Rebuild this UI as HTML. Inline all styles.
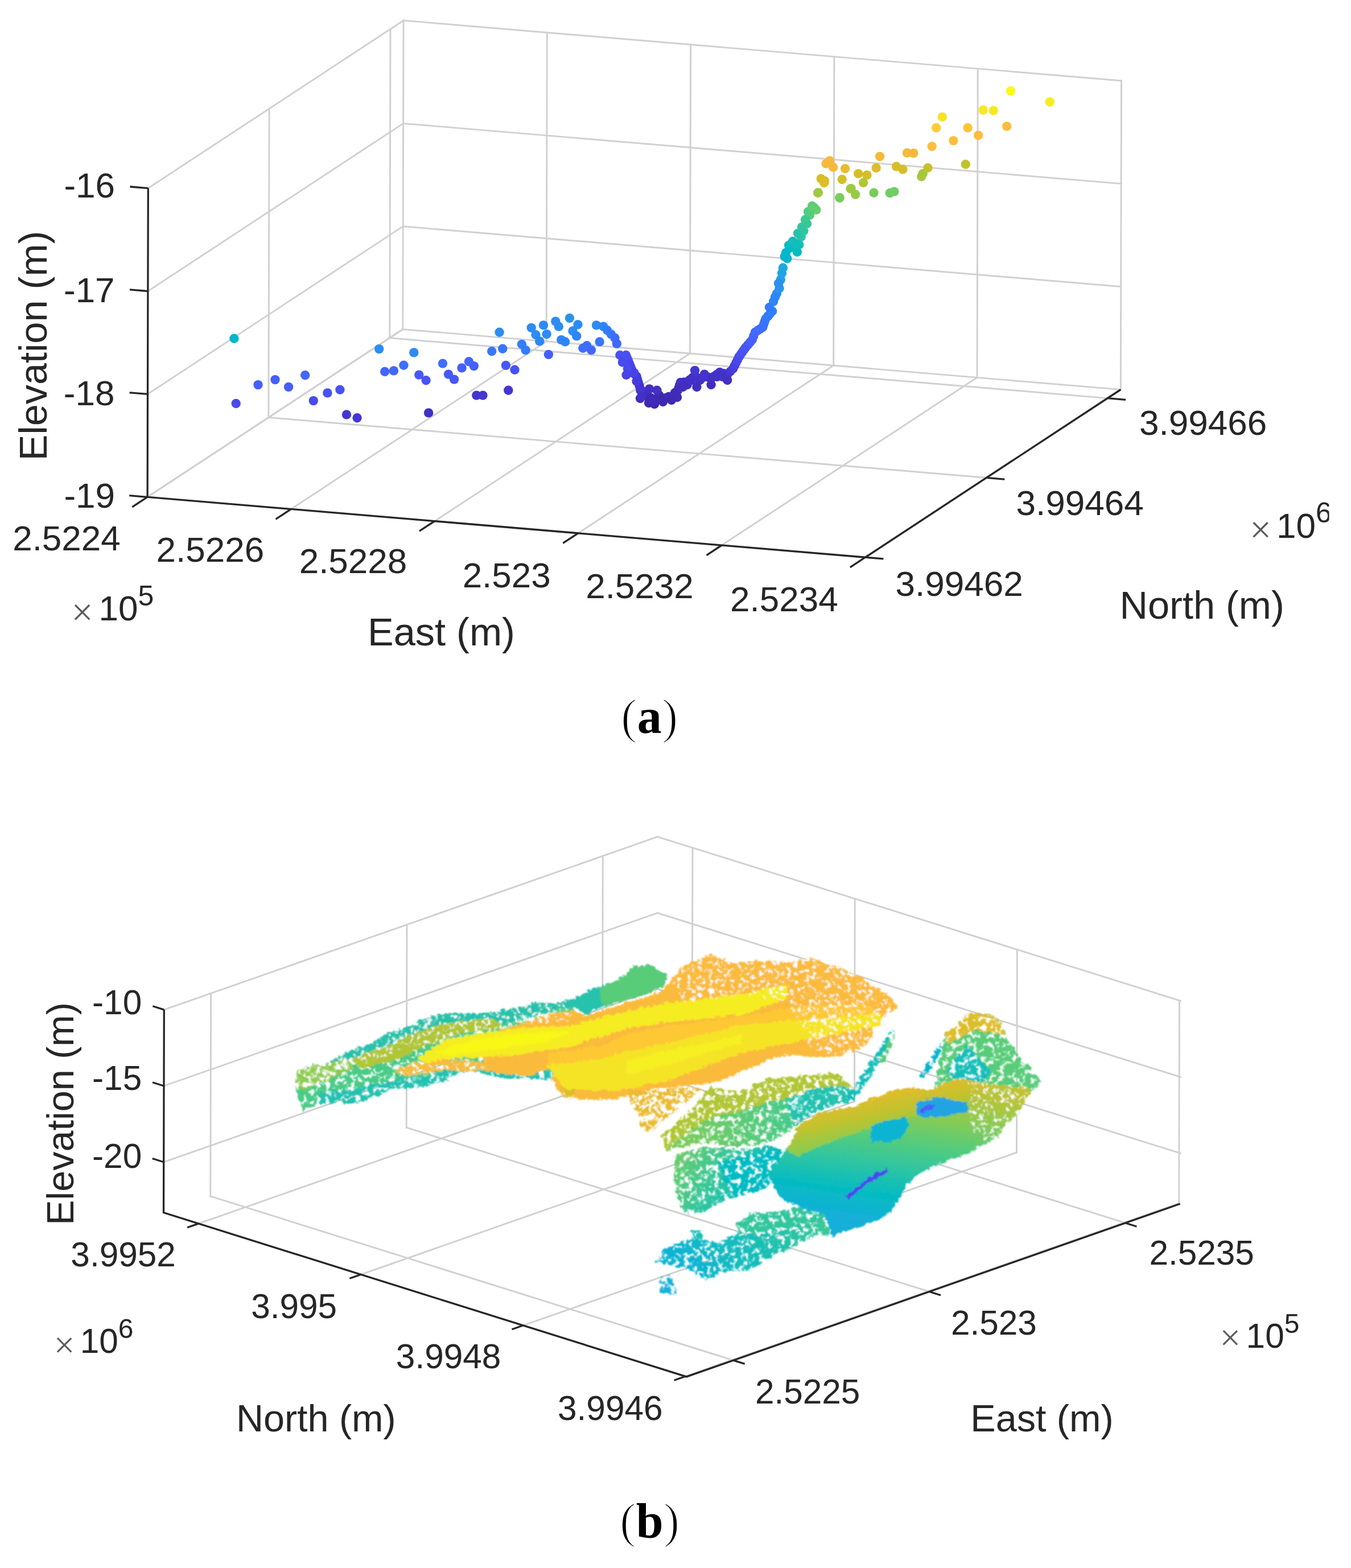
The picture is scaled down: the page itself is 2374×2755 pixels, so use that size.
<!DOCTYPE html>
<html><head><meta charset="utf-8"><title>Figure</title>
<style>html,body{margin:0;padding:0;background:#fff;overflow:hidden;width:2374px;height:2755px}svg{display:block}</style></head>
<body><svg width="2374" height="2755" viewBox="0 0 2374 2755">
<rect width="2374" height="2755" fill="#fff"/>
<g stroke="#d0d0d0" stroke-width="2.9" stroke-linecap="square">
<line x1="471.9" y1="733.5" x2="473.1" y2="190.9" stroke="#d0d0d0" stroke-width="2.9"/>
<line x1="684.8" y1="593.8" x2="686.0" y2="51.1" stroke="#d0d0d0" stroke-width="2.9"/>
<line x1="259.1" y1="873.3" x2="707.8" y2="578.6" stroke="#d0d0d0" stroke-width="2.9"/>
<line x1="259.5" y1="692.4" x2="708.2" y2="397.7" stroke="#d0d0d0" stroke-width="2.9"/>
<line x1="259.9" y1="511.6" x2="708.6" y2="216.9" stroke="#d0d0d0" stroke-width="2.9"/>
<line x1="260.3" y1="330.7" x2="709.0" y2="36.0" stroke="#d0d0d0" stroke-width="2.9"/>
<line x1="707.8" y1="578.6" x2="709.0" y2="36.0" stroke="#d0d0d0" stroke-width="2.9"/>
<line x1="960.1" y1="599.8" x2="961.3" y2="57.2" stroke="#d0d0d0" stroke-width="2.9"/>
<line x1="1212.4" y1="621.0" x2="1213.6" y2="78.3" stroke="#d0d0d0" stroke-width="2.9"/>
<line x1="1464.7" y1="642.1" x2="1465.9" y2="99.5" stroke="#d0d0d0" stroke-width="2.9"/>
<line x1="1717.0" y1="663.3" x2="1718.2" y2="120.7" stroke="#d0d0d0" stroke-width="2.9"/>
<line x1="1969.3" y1="684.5" x2="1970.5" y2="141.9" stroke="#d0d0d0" stroke-width="2.9"/>
<line x1="707.8" y1="578.6" x2="1969.3" y2="684.5" stroke="#d0d0d0" stroke-width="2.9"/>
<line x1="708.2" y1="397.7" x2="1969.7" y2="503.6" stroke="#d0d0d0" stroke-width="2.9"/>
<line x1="708.6" y1="216.9" x2="1970.1" y2="322.8" stroke="#d0d0d0" stroke-width="2.9"/>
<line x1="709.0" y1="36.0" x2="1970.5" y2="141.9" stroke="#d0d0d0" stroke-width="2.9"/>
<line x1="259.1" y1="873.3" x2="707.8" y2="578.6" stroke="#d0d0d0" stroke-width="2.9"/>
<line x1="511.4" y1="894.5" x2="960.1" y2="599.8" stroke="#d0d0d0" stroke-width="2.9"/>
<line x1="763.7" y1="915.7" x2="1212.4" y2="621.0" stroke="#d0d0d0" stroke-width="2.9"/>
<line x1="1015.9" y1="936.9" x2="1464.7" y2="642.1" stroke="#d0d0d0" stroke-width="2.9"/>
<line x1="1268.2" y1="958.0" x2="1717.0" y2="663.3" stroke="#d0d0d0" stroke-width="2.9"/>
<line x1="1520.5" y1="979.2" x2="1969.3" y2="684.5" stroke="#d0d0d0" stroke-width="2.9"/>
<line x1="259.1" y1="873.3" x2="1520.5" y2="979.2" stroke="#d0d0d0" stroke-width="2.9"/>
<line x1="471.9" y1="733.5" x2="1733.4" y2="839.4" stroke="#d0d0d0" stroke-width="2.9"/>
<line x1="684.8" y1="593.8" x2="1946.2" y2="699.7" stroke="#d0d0d0" stroke-width="2.9"/>
</g>
<g>
<circle cx="1100.0" cy="624.0" r="8.2" fill="#4851f4"/>
<circle cx="1102.0" cy="629.0" r="8.2" fill="#484ef1"/>
<circle cx="1104.0" cy="634.1" r="8.2" fill="#484cef"/>
<circle cx="1106.1" cy="639.1" r="8.2" fill="#4849ed"/>
<circle cx="1108.1" cy="644.2" r="8.2" fill="#4746ea"/>
<circle cx="1110.1" cy="649.2" r="8.2" fill="#4743e7"/>
<circle cx="1114.3" cy="655.1" r="8.2" fill="#473fe3"/>
<circle cx="1118.5" cy="661.0" r="8.2" fill="#463cde"/>
<circle cx="1120.2" cy="666.6" r="8.2" fill="#4539d9"/>
<circle cx="1121.8" cy="672.2" r="8.2" fill="#4536d3"/>
<circle cx="1123.5" cy="677.8" r="8.2" fill="#4433cc"/>
<circle cx="1126.0" cy="684.5" r="8.2" fill="#4330c5"/>
<circle cx="1128.6" cy="691.3" r="8.2" fill="#422ebe"/>
<circle cx="1137.0" cy="696.0" r="8.2" fill="#402bb7"/>
<circle cx="1142.8" cy="698.6" r="8.2" fill="#402ab4"/>
<circle cx="1148.7" cy="701.3" r="8.2" fill="#3f29b0"/>
<circle cx="1153.8" cy="701.3" r="8.2" fill="#3f29b0"/>
<circle cx="1158.8" cy="701.3" r="8.2" fill="#3f29b0"/>
<circle cx="1163.9" cy="701.3" r="8.2" fill="#3f29b0"/>
<circle cx="1169.5" cy="699.1" r="8.2" fill="#402ab4"/>
<circle cx="1175.0" cy="697.0" r="8.2" fill="#402bb7"/>
<circle cx="1184.0" cy="695.0" r="8.2" fill="#402bb7"/>
<circle cx="1187.4" cy="690.6" r="8.2" fill="#412dbb"/>
<circle cx="1190.8" cy="686.2" r="8.2" fill="#422ebe"/>
<circle cx="1192.5" cy="681.5" r="8.2" fill="#422fc1"/>
<circle cx="1194.1" cy="676.7" r="8.2" fill="#4230c3"/>
<circle cx="1195.8" cy="672.0" r="8.2" fill="#4330c5"/>
<circle cx="1201.7" cy="671.5" r="8.2" fill="#4330c5"/>
<circle cx="1207.6" cy="671.1" r="8.2" fill="#4330c5"/>
<circle cx="1212.1" cy="667.4" r="8.2" fill="#4331c8"/>
<circle cx="1216.5" cy="663.7" r="8.2" fill="#4332ca"/>
<circle cx="1221.0" cy="660.0" r="8.2" fill="#4433cc"/>
<circle cx="1225.5" cy="664.0" r="8.2" fill="#4332c9"/>
<circle cx="1230.0" cy="668.0" r="8.2" fill="#4330c5"/>
<circle cx="1233.9" cy="664.0" r="8.2" fill="#4332c9"/>
<circle cx="1237.8" cy="660.0" r="8.2" fill="#4433cc"/>
<circle cx="1243.7" cy="662.5" r="8.2" fill="#4332c9"/>
<circle cx="1249.6" cy="665.0" r="8.2" fill="#4330c5"/>
<circle cx="1254.6" cy="661.4" r="8.2" fill="#4331c8"/>
<circle cx="1259.7" cy="657.9" r="8.2" fill="#4332ca"/>
<circle cx="1264.7" cy="654.3" r="8.2" fill="#4433cc"/>
<circle cx="1271.5" cy="656.1" r="8.2" fill="#4433cc"/>
<circle cx="1278.2" cy="658.0" r="8.2" fill="#4433cc"/>
<circle cx="1283.2" cy="652.8" r="8.2" fill="#4537d6"/>
<circle cx="1288.2" cy="647.6" r="8.2" fill="#463cde"/>
<circle cx="1290.7" cy="642.5" r="8.2" fill="#473fe3"/>
<circle cx="1293.2" cy="637.5" r="8.2" fill="#4743e7"/>
<circle cx="1295.8" cy="632.5" r="8.2" fill="#4747eb"/>
<circle cx="1298.3" cy="627.4" r="8.2" fill="#484aee"/>
<circle cx="1301.2" cy="623.2" r="8.2" fill="#484df0"/>
<circle cx="1304.2" cy="619.0" r="8.2" fill="#4850f2"/>
<circle cx="1307.1" cy="614.8" r="8.2" fill="#4852f4"/>
<circle cx="1310.1" cy="610.6" r="8.2" fill="#4755f6"/>
<circle cx="1314.0" cy="606.1" r="8.2" fill="#4758f8"/>
<circle cx="1317.9" cy="601.5" r="8.2" fill="#475cfa"/>
<circle cx="1321.8" cy="597.0" r="8.2" fill="#465ffb"/>
<circle cx="1324.3" cy="590.4" r="8.2" fill="#4563fd"/>
<circle cx="1326.9" cy="583.7" r="8.2" fill="#4367fd"/>
<circle cx="1331.4" cy="580.8" r="8.2" fill="#4269fe"/>
<circle cx="1335.8" cy="577.9" r="8.2" fill="#416cfe"/>
<circle cx="1340.3" cy="575.0" r="8.2" fill="#3f6eff"/>
<circle cx="1342.0" cy="570.1" r="8.2" fill="#3d71ff"/>
<circle cx="1343.7" cy="565.1" r="8.2" fill="#3a74fe"/>
<circle cx="1345.4" cy="560.2" r="8.2" fill="#3876fe"/>
<circle cx="1349.3" cy="555.7" r="8.2" fill="#3579fd"/>
<circle cx="1353.2" cy="551.2" r="8.2" fill="#327bfc"/>
<circle cx="1357.1" cy="546.7" r="8.2" fill="#317efb"/>
<circle cx="1125.0" cy="700.0" r="8.2" fill="#402bb7"/>
<circle cx="1140.0" cy="708.0" r="8.2" fill="#3f29b0"/>
<circle cx="1150.0" cy="710.0" r="8.2" fill="#3e26a8"/>
<circle cx="1165.0" cy="706.0" r="8.2" fill="#3f29b0"/>
<circle cx="1180.0" cy="703.0" r="8.2" fill="#3f29b0"/>
<circle cx="1190.0" cy="698.0" r="8.2" fill="#402bb7"/>
<circle cx="1134.0" cy="690.0" r="8.2" fill="#402bb7"/>
<circle cx="1158.0" cy="694.0" r="8.2" fill="#3f29b0"/>
<circle cx="1207.6" cy="676.0" r="8.2" fill="#422ebe"/>
<circle cx="1224.4" cy="680.0" r="8.2" fill="#422ebe"/>
<circle cx="1249.6" cy="676.0" r="8.2" fill="#422ebe"/>
<circle cx="1278.2" cy="668.0" r="8.2" fill="#4330c5"/>
<circle cx="1221.0" cy="650.9" r="8.2" fill="#4536d3"/>
<circle cx="1237.8" cy="657.6" r="8.2" fill="#4433cc"/>
<circle cx="1264.7" cy="654.3" r="8.2" fill="#4433cc"/>
<circle cx="1215.0" cy="668.0" r="8.2" fill="#4330c5"/>
<circle cx="1260.0" cy="662.0" r="8.2" fill="#4330c5"/>
<circle cx="1270.0" cy="662.0" r="8.2" fill="#4330c5"/>
<circle cx="1200.0" cy="680.0" r="8.2" fill="#422ebe"/>
<circle cx="1186.0" cy="690.0" r="8.2" fill="#402bb7"/>
<circle cx="411.4" cy="594.7" r="8.2" fill="#05b6ce"/>
<circle cx="414.7" cy="709.0" r="8.2" fill="#484aee"/>
<circle cx="453.5" cy="676.1" r="8.2" fill="#465ffb"/>
<circle cx="483.5" cy="667.1" r="8.2" fill="#465ffb"/>
<circle cx="507.1" cy="679.9" r="8.2" fill="#465ffb"/>
<circle cx="536.2" cy="659.3" r="8.2" fill="#4367fd"/>
<circle cx="550.8" cy="704.1" r="8.2" fill="#484aee"/>
<circle cx="575.4" cy="690.4" r="8.2" fill="#4851f4"/>
<circle cx="597.4" cy="684.8" r="8.2" fill="#4851f4"/>
<circle cx="609.0" cy="728.5" r="8.2" fill="#4536d3"/>
<circle cx="627.6" cy="734.3" r="8.2" fill="#4536d3"/>
<circle cx="666.2" cy="613.1" r="8.2" fill="#2d8cf3"/>
<circle cx="727.3" cy="619.4" r="8.2" fill="#2d8cf3"/>
<circle cx="676.2" cy="653.0" r="8.2" fill="#4367fd"/>
<circle cx="691.9" cy="651.4" r="8.2" fill="#4367fd"/>
<circle cx="709.4" cy="641.8" r="8.2" fill="#3f6eff"/>
<circle cx="736.3" cy="658.6" r="8.2" fill="#4758f8"/>
<circle cx="748.6" cy="668.2" r="8.2" fill="#4851f4"/>
<circle cx="753.1" cy="725.4" r="8.2" fill="#4330c5"/>
<circle cx="777.9" cy="638.6" r="8.2" fill="#3f6eff"/>
<circle cx="788.0" cy="657.6" r="8.2" fill="#4758f8"/>
<circle cx="798.1" cy="666.6" r="8.2" fill="#4758f8"/>
<circle cx="811.5" cy="646.4" r="8.2" fill="#465ffb"/>
<circle cx="823.9" cy="635.2" r="8.2" fill="#4367fd"/>
<circle cx="832.8" cy="643.1" r="8.2" fill="#465ffb"/>
<circle cx="837.3" cy="694.6" r="8.2" fill="#4536d3"/>
<circle cx="848.5" cy="694.6" r="8.2" fill="#4536d3"/>
<circle cx="864.2" cy="617.3" r="8.2" fill="#3876fe"/>
<circle cx="877.6" cy="583.7" r="8.2" fill="#2d8cf3"/>
<circle cx="883.3" cy="612.8" r="8.2" fill="#3876fe"/>
<circle cx="888.9" cy="642.0" r="8.2" fill="#4758f8"/>
<circle cx="904.5" cy="649.8" r="8.2" fill="#4851f4"/>
<circle cx="893.3" cy="685.7" r="8.2" fill="#4536d3"/>
<circle cx="916.9" cy="605.0" r="8.2" fill="#317efb"/>
<circle cx="923.6" cy="615.1" r="8.2" fill="#317efb"/>
<circle cx="933.7" cy="575.9" r="8.2" fill="#2d8cf3"/>
<circle cx="941.5" cy="588.2" r="8.2" fill="#2d8cf3"/>
<circle cx="948.2" cy="599.4" r="8.2" fill="#2e85f8"/>
<circle cx="955.0" cy="571.4" r="8.2" fill="#2d8cf3"/>
<circle cx="960.6" cy="587.1" r="8.2" fill="#2d8cf3"/>
<circle cx="963.9" cy="622.9" r="8.2" fill="#465ffb"/>
<circle cx="976.3" cy="564.6" r="8.2" fill="#2d8cf3"/>
<circle cx="981.8" cy="573.6" r="8.2" fill="#2d8cf3"/>
<circle cx="986.3" cy="597.1" r="8.2" fill="#2e85f8"/>
<circle cx="993.1" cy="600.5" r="8.2" fill="#2e85f8"/>
<circle cx="1000.9" cy="559.0" r="8.2" fill="#2a92ee"/>
<circle cx="1006.5" cy="581.5" r="8.2" fill="#2d8cf3"/>
<circle cx="1015.5" cy="570.3" r="8.2" fill="#2d8cf3"/>
<circle cx="1013.2" cy="590.4" r="8.2" fill="#2e85f8"/>
<circle cx="1024.4" cy="611.7" r="8.2" fill="#3f6eff"/>
<circle cx="1031.2" cy="607.2" r="8.2" fill="#3f6eff"/>
<circle cx="1039.0" cy="615.1" r="8.2" fill="#4367fd"/>
<circle cx="1048.0" cy="571.4" r="8.2" fill="#2d8cf3"/>
<circle cx="1053.6" cy="600.5" r="8.2" fill="#3876fe"/>
<circle cx="1060.3" cy="573.6" r="8.2" fill="#2e85f8"/>
<circle cx="1067.0" cy="580.3" r="8.2" fill="#317efb"/>
<circle cx="1073.7" cy="587.1" r="8.2" fill="#3876fe"/>
<circle cx="1080.4" cy="593.8" r="8.2" fill="#3f6eff"/>
<circle cx="1083.8" cy="603.9" r="8.2" fill="#4367fd"/>
<circle cx="1089.4" cy="624.0" r="8.2" fill="#4851f4"/>
<circle cx="1096.1" cy="626.3" r="8.2" fill="#4851f4"/>
<circle cx="1093.9" cy="636.4" r="8.2" fill="#484aee"/>
<circle cx="1102.9" cy="647.6" r="8.2" fill="#484aee"/>
<circle cx="1100.6" cy="658.8" r="8.2" fill="#4743e7"/>
<circle cx="1114.1" cy="656.5" r="8.2" fill="#4743e7"/>
<circle cx="1118.5" cy="670.0" r="8.2" fill="#463cde"/>
<circle cx="1125.3" cy="685.7" r="8.2" fill="#4536d3"/>
<circle cx="1127.5" cy="696.9" r="8.2" fill="#4330c5"/>
<circle cx="1141.0" cy="683.4" r="8.2" fill="#4330c5"/>
<circle cx="1147.7" cy="705.8" r="8.2" fill="#402bb7"/>
<circle cx="1154.4" cy="685.7" r="8.2" fill="#4330c5"/>
<circle cx="1349.8" cy="555.1" r="8.2" fill="#347afd"/>
<circle cx="1355.6" cy="547.0" r="8.2" fill="#2f81fa"/>
<circle cx="1359.1" cy="529.6" r="8.2" fill="#2d88f6"/>
<circle cx="1364.9" cy="515.7" r="8.2" fill="#2c8ff1"/>
<circle cx="1369.5" cy="506.5" r="8.2" fill="#2895ec"/>
<circle cx="1371.8" cy="491.4" r="8.2" fill="#249fe6"/>
<circle cx="1375.9" cy="470.5" r="8.2" fill="#1caadf"/>
<circle cx="1383.4" cy="454.3" r="8.2" fill="#0ab4d2"/>
<circle cx="1378.7" cy="450.9" r="8.2" fill="#0ab4d2"/>
<circle cx="1388.0" cy="435.8" r="8.2" fill="#04bbc2"/>
<circle cx="1400.8" cy="442.8" r="8.2" fill="#04bbc2"/>
<circle cx="1404.2" cy="430.0" r="8.2" fill="#12beb9"/>
<circle cx="1407.7" cy="416.1" r="8.2" fill="#2cc4a7"/>
<circle cx="1412.3" cy="405.7" r="8.2" fill="#33c69d"/>
<circle cx="1418.1" cy="393.0" r="8.2" fill="#3bc992"/>
<circle cx="1422.8" cy="377.9" r="8.2" fill="#58cc79"/>
<circle cx="1429.7" cy="366.3" r="8.2" fill="#68cd6b"/>
<circle cx="1434.3" cy="368.6" r="8.2" fill="#68cd6b"/>
<circle cx="1437.8" cy="338.5" r="8.2" fill="#9fc942"/>
<circle cx="1475.4" cy="347.8" r="8.2" fill="#7acc5d"/>
<circle cx="1494.6" cy="331.6" r="8.2" fill="#9fc942"/>
<circle cx="1381.0" cy="444.0" r="8.2" fill="#01b8ca"/>
<circle cx="1386.0" cy="431.0" r="8.2" fill="#04bbc2"/>
<circle cx="1393.0" cy="424.0" r="8.2" fill="#12beb9"/>
<circle cx="1398.0" cy="428.0" r="8.2" fill="#12beb9"/>
<circle cx="1402.0" cy="410.0" r="8.2" fill="#27c2ac"/>
<circle cx="1409.0" cy="399.0" r="8.2" fill="#33c69d"/>
<circle cx="1415.0" cy="386.0" r="8.2" fill="#3bc992"/>
<circle cx="1420.0" cy="372.0" r="8.2" fill="#50cc80"/>
<circle cx="1427.0" cy="362.0" r="8.2" fill="#60cd72"/>
<circle cx="1374.0" cy="480.0" r="8.2" fill="#20a4e3"/>
<circle cx="1368.0" cy="498.0" r="8.2" fill="#2a92ee"/>
<circle cx="1362.0" cy="522.0" r="8.2" fill="#2e85f8"/>
<circle cx="1352.0" cy="540.0" r="8.2" fill="#347afd"/>
<circle cx="1776.0" cy="159.7" r="8.2" fill="#f9fb15"/>
<circle cx="1844.8" cy="179.1" r="8.2" fill="#f5ec22"/>
<circle cx="1655.7" cy="205.5" r="8.2" fill="#f5e427"/>
<circle cx="1727.6" cy="193.4" r="8.2" fill="#f5e825"/>
<circle cx="1745.7" cy="194.2" r="8.2" fill="#f5e825"/>
<circle cx="1645.1" cy="224.5" r="8.2" fill="#fdcc32"/>
<circle cx="1700.6" cy="224.5" r="8.2" fill="#fec437"/>
<circle cx="1769.2" cy="221.9" r="8.2" fill="#fdbd3d"/>
<circle cx="1719.2" cy="237.8" r="8.2" fill="#fdbd3d"/>
<circle cx="1675.4" cy="247.1" r="8.2" fill="#fdbd3d"/>
<circle cx="1637.6" cy="257.2" r="8.2" fill="#fdbd3d"/>
<circle cx="1594.0" cy="268.6" r="8.2" fill="#f5ba3a"/>
<circle cx="1605.3" cy="269.1" r="8.2" fill="#f5ba3a"/>
<circle cx="1546.1" cy="274.9" r="8.2" fill="#f5ba3a"/>
<circle cx="1457.8" cy="282.4" r="8.2" fill="#f5ba3a"/>
<circle cx="1451.5" cy="287.5" r="8.2" fill="#f5ba3a"/>
<circle cx="1464.1" cy="293.8" r="8.2" fill="#f5ba3a"/>
<circle cx="1485.0" cy="296.3" r="8.2" fill="#eaba31"/>
<circle cx="1539.7" cy="295.0" r="8.2" fill="#debd29"/>
<circle cx="1575.0" cy="292.5" r="8.2" fill="#d7be28"/>
<circle cx="1586.4" cy="297.6" r="8.2" fill="#d7be28"/>
<circle cx="1630.5" cy="295.0" r="8.2" fill="#c8c129"/>
<circle cx="1696.8" cy="288.7" r="8.2" fill="#c1c32d"/>
<circle cx="1508.2" cy="305.1" r="8.2" fill="#d7be28"/>
<circle cx="1523.4" cy="307.6" r="8.2" fill="#d0c027"/>
<circle cx="1442.7" cy="314.0" r="8.2" fill="#d7be28"/>
<circle cx="1449.0" cy="317.7" r="8.2" fill="#d7be28"/>
<circle cx="1479.7" cy="315.2" r="8.2" fill="#d0c027"/>
<circle cx="1517.1" cy="321.0" r="8.2" fill="#b0c636"/>
<circle cx="1621.7" cy="305.1" r="8.2" fill="#a8c73b"/>
<circle cx="1619.2" cy="310.2" r="8.2" fill="#a8c73b"/>
<circle cx="1495.6" cy="331.1" r="8.2" fill="#9fc942"/>
<circle cx="1503.2" cy="341.7" r="8.2" fill="#96ca48"/>
<circle cx="1437.1" cy="338.7" r="8.2" fill="#9fc942"/>
<circle cx="1475.5" cy="347.2" r="8.2" fill="#7acc5d"/>
<circle cx="1535.5" cy="338.7" r="8.2" fill="#7acc5d"/>
<circle cx="1563.7" cy="339.2" r="8.2" fill="#71cd64"/>
<circle cx="1571.3" cy="336.6" r="8.2" fill="#71cd64"/>
<circle cx="1448.2" cy="321.2" r="8.2" fill="#debd29"/>
<circle cx="1430.1" cy="364.4" r="8.2" fill="#60cd72"/>
</g>
<g stroke="#262626" stroke-width="3.3" stroke-linecap="butt" fill="none">
<polyline fill="none" stroke="#262626" stroke-width="3.3" stroke-linejoin="miter" points="260.3,330.7 259.1,873.3 1520.5,979.2 1969.3,684.5"/>
<line x1="259.1" y1="873.3" x2="227.2" y2="870.6" stroke="#262626" stroke-width="3.3"/>
<line x1="259.5" y1="692.4" x2="227.6" y2="689.8" stroke="#262626" stroke-width="3.3"/>
<line x1="259.9" y1="511.6" x2="228.0" y2="508.9" stroke="#262626" stroke-width="3.3"/>
<line x1="260.3" y1="330.7" x2="228.4" y2="328.0" stroke="#262626" stroke-width="3.3"/>
<line x1="259.1" y1="873.3" x2="232.3" y2="890.9" stroke="#262626" stroke-width="3.3"/>
<line x1="511.4" y1="894.5" x2="484.6" y2="912.1" stroke="#262626" stroke-width="3.3"/>
<line x1="763.7" y1="915.7" x2="736.9" y2="933.2" stroke="#262626" stroke-width="3.3"/>
<line x1="1015.9" y1="936.9" x2="989.2" y2="954.4" stroke="#262626" stroke-width="3.3"/>
<line x1="1268.2" y1="958.0" x2="1241.5" y2="975.6" stroke="#262626" stroke-width="3.3"/>
<line x1="1520.5" y1="979.2" x2="1493.8" y2="996.8" stroke="#262626" stroke-width="3.3"/>
<line x1="1520.5" y1="979.2" x2="1552.4" y2="981.9" stroke="#262626" stroke-width="3.3"/>
<line x1="1733.4" y1="839.4" x2="1765.3" y2="842.1" stroke="#262626" stroke-width="3.3"/>
<line x1="1946.2" y1="699.7" x2="1978.1" y2="702.3" stroke="#262626" stroke-width="3.3"/>
</g>
<g font-family="'Liberation Sans', Arial, Helvetica, sans-serif" fill="#262626">
<text x="202.0" y="346.5" font-size="62" text-anchor="end">-16</text>
<text x="201.6" y="531.3" font-size="62" text-anchor="end">-17</text>
<text x="201.4" y="712.1" font-size="62" text-anchor="end">-18</text>
<text x="202.0" y="892.4" font-size="62" text-anchor="end">-19</text>
<text x="211.8" y="967.3" font-size="62" text-anchor="end">2.5224</text>
<text x="464.2" y="986.9" font-size="62" text-anchor="end">2.5226</text>
<text x="715.3" y="1007.4" font-size="62" text-anchor="end">2.5228</text>
<text x="967.8" y="1031.5" font-size="62" text-anchor="end">2.523</text>
<text x="1218.8" y="1050.7" font-size="62" text-anchor="end">2.5232</text>
<text x="1472.7" y="1074.1" font-size="62" text-anchor="end">2.5234</text>
<text x="1573.6" y="1047.3" font-size="62" text-anchor="start">3.99462</text>
<text x="1785.6" y="905.3" font-size="62" text-anchor="start">3.99464</text>
<text x="2002.1" y="764.3" font-size="62" text-anchor="start">3.99466</text>
<text x="125.2" y="1097.8" font-size="66.3" fill="#5a5a5a" stroke="#fff" stroke-width="1.4">×</text>
<text x="173.6" y="1090.2" font-size="62">10<tspan font-size="50" dy="-26.7">5</tspan></text>
<text x="2195.8" y="952.8" font-size="66.3" fill="#5a5a5a" stroke="#fff" stroke-width="1.4">×</text>
<text x="2243.0" y="944.7" font-size="62">10<tspan font-size="50" dy="-26.7">6</tspan></text>
<text x="646.0" y="1134.4" font-size="68.5" text-anchor="start">East (m)</text>
<text x="1967.5" y="1087.4" font-size="68.5" text-anchor="start">North (m)</text>
<text transform="translate(82.2,607.5) rotate(-90)" font-size="68.5" text-anchor="middle">Elevation (m)</text>
<text x="249.2" y="1782.2" font-size="60.3" text-anchor="end">-10</text>
<text x="249.2" y="1915.0" font-size="60.3" text-anchor="end">-15</text>
<text x="249.2" y="2051.5" font-size="60.3" text-anchor="end">-20</text>
<text x="308.8" y="2224.8" font-size="60.3" text-anchor="end">3.9952</text>
<text x="592.1" y="2316.2" font-size="60.3" text-anchor="end">3.995</text>
<text x="880.3" y="2404.4" font-size="60.3" text-anchor="end">3.9948</text>
<text x="1164.5" y="2495.0" font-size="60.3" text-anchor="end">3.9946</text>
<text x="1326.9" y="2465.8" font-size="60.3" text-anchor="start">2.5225</text>
<text x="1671.0" y="2344.7" font-size="60.3" text-anchor="start">2.523</text>
<text x="2019.4" y="2222.2" font-size="60.3" text-anchor="start">2.5235</text>
<text x="94.3" y="2385.0" font-size="64.5" fill="#5a5a5a" stroke="#fff" stroke-width="1.4">×</text>
<text x="140.7" y="2376.6" font-size="60.3">10<tspan font-size="48" dy="-25.9">6</tspan></text>
<text x="2142.9" y="2372.0" font-size="64.5" fill="#5a5a5a" stroke="#fff" stroke-width="1.4">×</text>
<text x="2189.6" y="2367.8" font-size="60.3">10<tspan font-size="48" dy="-25.9">5</tspan></text>
<text x="414.9" y="2515.2" font-size="66.5" text-anchor="start">North (m)</text>
<text x="1705.3" y="2514.5" font-size="66.5" text-anchor="start">East (m)</text>
<text transform="translate(129.1,1957.0) rotate(-90)" font-size="66.5" text-anchor="middle">Elevation (m)</text>
</g>
<rect x="2335.5" y="850" width="40" height="110" fill="#fff"/>
<text x="1141.2" y="1287.6" font-family="'Liberation Serif', 'Times New Roman', serif" font-size="86" text-anchor="middle" fill="#000"><tspan stroke="#fff" stroke-width="2.2">(</tspan><tspan font-weight="bold">a</tspan><tspan stroke="#fff" stroke-width="2.2">)</tspan></text>
<text x="1141.6" y="2700.5" font-family="'Liberation Serif', 'Times New Roman', serif" font-size="86" text-anchor="middle" fill="#000"><tspan stroke="#fff" stroke-width="2.2">(</tspan><tspan font-weight="bold">b</tspan><tspan stroke="#fff" stroke-width="2.2">)</tspan></text>
<g stroke="#d0d0d0" stroke-width="2.9" stroke-linecap="square">
<line x1="369.8" y1="2101.8" x2="370.6" y2="1745.3" stroke="#d0d0d0" stroke-width="2.9"/>
<line x1="714.2" y1="1981.1" x2="715.0" y2="1624.6" stroke="#d0d0d0" stroke-width="2.9"/>
<line x1="1058.5" y1="1860.4" x2="1059.3" y2="1503.9" stroke="#d0d0d0" stroke-width="2.9"/>
<line x1="288.3" y1="1774.1" x2="1155.6" y2="1470.2" stroke="#d0d0d0" stroke-width="2.9"/>
<line x1="288.0" y1="1908.0" x2="1155.3" y2="1604.0" stroke="#d0d0d0" stroke-width="2.9"/>
<line x1="287.7" y1="2041.8" x2="1155.0" y2="1737.8" stroke="#d0d0d0" stroke-width="2.9"/>
<line x1="2071.7" y1="2114.4" x2="2072.5" y2="1757.9" stroke="#d0d0d0" stroke-width="2.9"/>
<line x1="1786.5" y1="2024.9" x2="1787.3" y2="1668.4" stroke="#d0d0d0" stroke-width="2.9"/>
<line x1="1501.4" y1="1935.4" x2="1502.2" y2="1578.9" stroke="#d0d0d0" stroke-width="2.9"/>
<line x1="1216.2" y1="1845.9" x2="1217.0" y2="1489.4" stroke="#d0d0d0" stroke-width="2.9"/>
<line x1="2074.4" y1="1758.5" x2="1155.6" y2="1470.2" stroke="#d0d0d0" stroke-width="2.9"/>
<line x1="2074.2" y1="1892.3" x2="1155.3" y2="1604.0" stroke="#d0d0d0" stroke-width="2.9"/>
<line x1="2073.9" y1="2026.2" x2="1155.0" y2="1737.8" stroke="#d0d0d0" stroke-width="2.9"/>
<line x1="1288.6" y1="2390.1" x2="369.8" y2="2101.8" stroke="#d0d0d0" stroke-width="2.9"/>
<line x1="1633.0" y1="2269.4" x2="714.2" y2="1981.1" stroke="#d0d0d0" stroke-width="2.9"/>
<line x1="1977.4" y1="2148.7" x2="1058.5" y2="1860.4" stroke="#d0d0d0" stroke-width="2.9"/>
<line x1="1204.4" y1="2418.3" x2="2071.7" y2="2114.4" stroke="#d0d0d0" stroke-width="2.9"/>
<line x1="919.2" y1="2328.8" x2="1786.5" y2="2024.9" stroke="#d0d0d0" stroke-width="2.9"/>
<line x1="634.1" y1="2239.4" x2="1501.4" y2="1935.4" stroke="#d0d0d0" stroke-width="2.9"/>
<line x1="348.9" y1="2149.9" x2="1216.2" y2="1845.9" stroke="#d0d0d0" stroke-width="2.9"/>
</g>
<defs>
<filter id="fh" filterUnits="userSpaceOnUse" x="480" y="1640" width="1400" height="660">
<feTurbulence type="fractalNoise" baseFrequency="0.13" numOctaves="2" seed="7" result="n"/>
<feColorMatrix in="n" type="matrix" values="0 0 0 0 0  0 0 0 0 0  0 0 0 0 0  0 0 0 10 -3.6" result="m"/>
<feComposite in="SourceGraphic" in2="m" operator="in"/>
</filter>
<filter id="fH" filterUnits="userSpaceOnUse" x="480" y="1640" width="1400" height="660">
<feTurbulence type="fractalNoise" baseFrequency="0.13" numOctaves="2" seed="9" result="n"/>
<feColorMatrix in="n" type="matrix" values="0 0 0 0 0  0 0 0 0 0  0 0 0 0 0  0 0 0 10 -4.3" result="m"/>
<feComposite in="SourceGraphic" in2="m" operator="in"/>
</filter>
<filter id="sp" filterUnits="userSpaceOnUse" x="480" y="1640" width="1400" height="660">
<feTurbulence type="fractalNoise" baseFrequency="0.16" numOctaves="2" seed="21" result="n"/>
<feColorMatrix in="n" type="matrix" values="0 0 0 0 0  0 0 0 0 0  0 0 0 0 0  0 0 0 12 -7.0" result="m"/>
<feComposite in="SourceGraphic" in2="m" operator="in"/>
</filter>
<filter id="rag" filterUnits="userSpaceOnUse" x="480" y="1640" width="1400" height="660">
<feTurbulence type="turbulence" baseFrequency="0.09" numOctaves="2" seed="3" result="t"/>
<feDisplacementMap in="SourceGraphic" in2="t" scale="9" xChannelSelector="R" yChannelSelector="G" result="d"/>
<feGaussianBlur in="d" stdDeviation="0.8"/>
</filter>
</defs>
<g stroke="none" filter="url(#rag)">
<g filter="url(#fh)">
<polygon fill="#48cb86" points="517.9,1878.9 544.8,1870.0 578.4,1863.2 612.0,1843.0 645.7,1834.0 679.3,1811.7 712.9,1805.0 735.3,1789.3 769.0,1780.3 795.8,1775.9 836.1,1780.3 858.5,1775.9 880.0,1774.3 913.6,1767.6 942.7,1758.6 974.1,1760.8 1005.5,1751.9 1005.5,1890.0 977.3,1895.3 943.7,1893.6 903.4,1892.0 881.0,1892.4 847.3,1883.4 825.0,1879.0 802.5,1883.4 780.0,1896.9 746.5,1905.8 712.9,1910.3 674.8,1914.8 656.9,1926.0 623.2,1935.0 596.4,1937.2 556.0,1937.2 529.1,1950.6 522.4,1926.0 515.7,1905.8"/>
<polygon fill="#21c1b0" points="560.0,1918.0 620.0,1912.0 680.0,1897.0 750.0,1888.0 800.0,1872.0 850.0,1868.0 900.0,1876.0 950.0,1880.0 1005.0,1878.0 1005.0,1890.0 977.0,1895.0 944.0,1894.0 903.0,1892.0 881.0,1892.0 847.0,1883.0 825.0,1879.0 802.0,1883.0 780.0,1897.0 746.0,1906.0 713.0,1910.0 675.0,1915.0 657.0,1926.0 623.0,1935.0 596.0,1937.0 556.0,1937.0"/>
<polygon fill="#8dcb4f" points="517.9,1878.9 544.8,1870.0 578.4,1863.2 600.0,1858.0 640.0,1856.0 610.0,1880.0 570.0,1898.0 535.0,1912.0 515.7,1905.8"/>
</g>
<g>
<polygon fill="#27c2ac" points="578.4,1863.2 612.0,1843.0 645.7,1834.0 679.3,1811.7 712.9,1805.0 735.3,1789.3 769.0,1780.3 795.8,1775.9 836.1,1780.3 858.5,1775.9 880.0,1774.3 913.6,1767.6 942.7,1758.6 974.1,1760.8 1005.5,1751.9 1036.9,1736.2 1070.5,1725.0 1092.9,1713.8 1110.8,1695.9 1144.4,1693.6 1153.4,1702.6 1171.3,1709.3 1171.3,1718.3 1160.1,1734.0 1137.7,1742.9 1104.1,1751.9 1070.5,1763.1 1041.3,1772.0 1032.4,1781.0 1023.4,1776.5 1005.5,1767.6 969.6,1772.0 924.8,1785.5 880.0,1796.7 858.5,1786.0 813.7,1791.5 769.0,1797.0 724.0,1814.0 679.3,1834.0 612.0,1858.8"/>
<polygon fill="#58cc79" points="1050.0,1735.0 1070.5,1725.0 1092.9,1713.8 1110.8,1695.9 1144.4,1693.6 1153.4,1702.6 1171.3,1709.3 1171.3,1718.3 1160.1,1734.0 1137.7,1742.9 1104.1,1751.9 1070.5,1763.1 1055.0,1765.0"/>
<polygon fill="#b0c636" points="612.0,1858.8 679.3,1834.0 724.0,1814.0 769.0,1797.0 813.7,1791.5 858.5,1786.0 880.0,1796.7 880.0,1806.0 836.0,1807.2 791.3,1818.4 746.5,1834.0 701.7,1856.5 634.5,1874.5"/>
</g>
<g filter="url(#fh)">
<polygon fill="#fabb3d" points="690.0,1880.0 720.0,1866.0 760.0,1858.0 800.0,1860.0 840.0,1862.0 860.0,1874.0 830.0,1880.0 790.0,1878.0 745.0,1884.0 710.0,1888.0"/>
</g>
<g>
<polygon fill="#fabb3d" points="840.0,1830.0 880.0,1806.0 924.8,1792.0 969.6,1778.0 1005.5,1772.0 1023.4,1782.0 1041.3,1778.0 1070.5,1768.0 1104.1,1757.0 1137.7,1748.0 1160.1,1740.0 1175.0,1722.0 1200.4,1693.6 1227.3,1682.4 1245.3,1673.4 1261.0,1680.2 1283.6,1691.5 1328.4,1684.8 1384.5,1689.3 1424.8,1680.3 1451.7,1691.5 1474.0,1696.0 1507.7,1714.0 1530.0,1729.6 1559.2,1745.3 1575.0,1765.5 1563.7,1774.5 1548.0,1785.7 1530.0,1796.9 1530.0,1819.3 1519.0,1835.0 1496.5,1846.2 1462.9,1855.1 1429.3,1855.1 1395.7,1850.6 1362.0,1855.1 1339.6,1864.1 1306.0,1879.8 1272.4,1893.2 1250.0,1900.0 1238.5,1902.0 1193.7,1906.5 1149.0,1911.0 1115.3,1917.7 1081.7,1929.0 1014.5,1929.0 974.0,1913.0 969.6,1875.0 924.8,1888.6 880.0,1884.0 850.0,1878.0"/>
<polygon fill="#fec835" points="960.0,1850.0 1053.0,1836.0 1100.0,1815.0 1167.0,1800.0 1302.0,1784.0 1405.0,1765.0 1506.0,1760.0 1545.0,1778.0 1506.0,1782.0 1405.0,1790.0 1302.0,1798.0 1167.0,1831.0 1100.0,1845.0 1053.0,1858.0 960.0,1870.0"/>
<polygon fill="#f5ec22" points="1380.0,1728.0 1302.0,1744.0 1167.0,1761.0 1100.0,1775.0 1000.0,1800.0 900.0,1805.0 836.0,1814.0 780.0,1825.0 735.0,1856.0 746.0,1866.0 791.0,1857.0 836.0,1856.0 900.0,1852.0 1000.0,1836.0 1100.0,1805.0 1167.0,1794.0 1302.0,1781.0 1380.0,1752.0"/>
<polygon fill="#f8f719" points="760.0,1848.0 800.0,1832.0 850.0,1822.0 900.0,1815.0 960.0,1810.0 1000.0,1812.0 960.0,1828.0 900.0,1838.0 840.0,1845.0 790.0,1852.0"/>
<polygon fill="#f5e427" points="960.0,1870.0 1053.0,1858.0 1100.0,1845.0 1167.0,1831.0 1302.0,1798.0 1405.0,1790.0 1506.0,1782.0 1545.0,1778.0 1545.0,1800.0 1506.0,1808.0 1405.0,1826.0 1302.0,1848.0 1167.0,1898.0 1100.0,1912.0 1053.0,1915.0 990.0,1912.0"/>
<polygon fill="#f6f020" points="1100.0,1860.0 1167.0,1845.0 1250.0,1828.0 1300.0,1815.0 1300.0,1830.0 1250.0,1845.0 1167.0,1870.0 1100.0,1885.0"/>
</g>
<g filter="url(#fH)">
<polygon fill="#eaba31" points="1100.0,1912.0 1130.0,1915.0 1160.0,1912.0 1200.0,1908.0 1230.0,1910.0 1210.0,1930.0 1185.0,1950.0 1165.0,1965.0 1145.0,1985.0 1125.0,1985.0 1118.0,1955.0 1105.0,1935.0"/>
</g>
<g filter="url(#fh)">
<polygon fill="#debd29" points="980.0,1905.0 1010.0,1915.0 1000.0,1930.0 985.0,1925.0"/>
<polygon fill="#b0c636" points="1160.0,1992.0 1200.0,1960.0 1245.7,1909.0 1301.7,1913.6 1346.5,1893.4 1391.3,1889.0 1436.0,1884.5 1469.7,1884.5 1500.0,1911.4 1500.0,1936.0 1469.7,1936.0 1425.0,1954.0 1380.0,1987.6 1346.5,2005.5 1301.7,2014.5 1234.5,2005.5 1167.2,2019.0"/>
<defs><linearGradient id="g330" gradientUnits="userSpaceOnUse" x1="1200" y1="1990" x2="1480" y2="1920"><stop offset="0" stop-color="#7acc5d"/><stop offset="0.6" stop-color="#48cb86"/><stop offset="1" stop-color="#21c1b0"/></linearGradient></defs>
<polygon fill="url(#g330)" points="1167.2,2019.0 1200.0,1990.0 1250.0,1960.0 1300.0,1950.0 1346.0,1935.0 1400.0,1925.0 1450.0,1915.0 1500.0,1915.0 1500.0,1936.0 1469.7,1936.0 1425.0,1954.0 1380.0,1987.6 1346.5,2005.5 1301.7,2014.5 1234.5,2005.5"/>
<polygon fill="#21c1b0" points="1380.0,1930.0 1420.0,1912.0 1470.0,1905.0 1500.0,1912.0 1500.0,1936.0 1469.7,1936.0 1425.0,1954.0 1395.0,1975.0"/>
<defs><linearGradient id="g333" gradientUnits="userSpaceOnUse" x1="1190" y1="2030" x2="1320" y2="2110"><stop offset="0" stop-color="#68cd6b"/><stop offset="0.5" stop-color="#33c69d"/><stop offset="1" stop-color="#01b9c6"/></linearGradient></defs>
<polygon fill="url(#g333)" points="1185.0,2025.7 1234.5,2012.0 1301.7,2020.0 1346.5,2010.0 1380.0,2019.0 1346.5,2081.7 1342.0,2072.7 1324.0,2093.0 1279.3,2104.0 1234.5,2126.5 1200.8,2131.0 1189.6,2104.0 1180.0,2060.0"/>
<polygon fill="#04bbc2" points="1260.0,2040.0 1300.0,2030.0 1346.0,2020.0 1375.0,2025.0 1346.5,2081.7 1324.0,2093.0 1290.0,2100.0 1270.0,2070.0"/>
<defs><linearGradient id="g336" gradientUnits="userSpaceOnUse" x1="1440" y1="2110" x2="1170" y2="2230"><stop offset="0" stop-color="#3bc992"/><stop offset="0.5" stop-color="#12beb9"/><stop offset="1" stop-color="#11b1d6"/></linearGradient></defs>
<polygon fill="url(#g336)" points="1151.5,2216.0 1162.7,2193.7 1212.0,2171.3 1256.9,2182.5 1297.2,2160.0 1324.0,2126.5 1369.0,2126.5 1402.5,2117.5 1447.3,2126.5 1458.5,2166.8 1425.0,2171.3 1391.3,2189.2 1357.7,2205.0 1313.0,2229.6 1279.3,2229.6 1239.0,2247.5 1212.0,2229.6 1178.4,2220.6"/>
<polygon fill="#12beb9" points="1210.0,2160.0 1225.0,2158.0 1235.0,2172.0 1220.0,2178.0"/>
<polygon fill="#33c69d" points="1290.0,2150.0 1324.0,2126.5 1369.0,2126.5 1402.5,2117.5 1447.3,2126.5 1450.0,2145.0 1400.0,2150.0 1350.0,2160.0 1300.0,2170.0"/>
<polygon fill="#0ab4d2" points="1155.0,2214.0 1200.0,2200.0 1240.0,2215.0 1239.0,2247.5 1212.0,2229.6 1178.4,2220.6"/>
</g>
<g filter="url(#fH)">
<polygon fill="#15afd9" points="1160.0,2240.0 1175.0,2236.0 1188.0,2270.0 1170.0,2275.0 1158.0,2268.0"/>
</g>
<g filter="url(#fh)">
<polygon fill="#58cc79" points="1638.0,1912.0 1650.0,1850.0 1660.6,1811.5 1674.0,1802.6 1696.5,1778.0 1719.0,1778.0 1748.0,1784.7 1757.0,1793.6 1775.0,1836.2 1797.3,1867.6 1808.5,1872.0 1826.5,1899.0 1808.0,1920.0 1750.0,1925.0 1700.0,1915.0"/>
<polygon fill="#debd29" points="1660.6,1811.5 1674.0,1802.6 1696.5,1778.0 1719.0,1778.0 1748.0,1784.7 1757.0,1793.6 1765.0,1815.0 1740.0,1812.0 1710.0,1808.0 1680.0,1825.0 1662.0,1830.0"/>
<polygon fill="#12beb9" points="1660.0,1880.0 1680.0,1850.0 1700.0,1835.0 1720.0,1860.0 1740.0,1880.0 1720.0,1905.0 1690.0,1905.0"/>
<polygon fill="#05b6ce" points="1612.0,1890.0 1630.0,1860.0 1650.0,1830.0 1655.0,1835.0 1640.0,1865.0 1620.0,1893.0"/>
</g>
<g>
<defs><linearGradient id="g352" gradientUnits="userSpaceOnUse" x1="1600" y1="1900" x2="1565" y2="2150"><stop offset="0" stop-color="#c1c32d"/><stop offset="0.2" stop-color="#8dcb4f"/><stop offset="0.4" stop-color="#58cc79"/><stop offset="0.6" stop-color="#2fc5a2"/><stop offset="0.8" stop-color="#04bbc2"/><stop offset="1" stop-color="#15afd9"/></linearGradient></defs>
<polygon fill="url(#g352)" points="1346.5,2060.0 1380.0,2019.0 1402.5,1974.0 1436.0,1954.0 1481.0,1945.0 1500.0,1942.0 1526.2,1930.3 1562.0,1914.6 1595.7,1908.0 1629.3,1914.6 1674.0,1894.5 1696.5,1894.5 1741.3,1903.4 1786.0,1908.0 1799.6,1903.4 1808.5,1917.0 1797.3,1934.8 1786.0,1957.2 1763.7,1973.0 1752.5,1995.3 1730.0,2006.5 1696.5,2024.4 1674.0,2033.4 1640.5,2046.8 1606.9,2062.5 1589.0,2085.0 1575.5,2107.3 1562.0,2127.5 1539.6,2141.0 1506.0,2154.4 1472.4,2163.4 1461.2,2172.3 1447.3,2131.0 1413.7,2122.0 1369.0,2104.0"/>
<defs><linearGradient id="g354" gradientUnits="userSpaceOnUse" x1="1600" y1="1905" x2="1615" y2="1975"><stop offset="0" stop-color="#e4bb2c"/><stop offset="0.5" stop-color="#c1c32d"/><stop offset="1" stop-color="#8dcb4f"/></linearGradient></defs>
<polygon fill="url(#g354)" points="1380.0,2019.0 1402.5,1974.0 1436.0,1954.0 1481.0,1945.0 1500.0,1942.0 1526.2,1930.3 1562.0,1914.6 1595.7,1908.0 1629.3,1914.6 1674.0,1894.5 1696.5,1894.5 1741.3,1903.4 1786.0,1908.0 1760.0,1925.0 1700.0,1928.0 1650.0,1945.0 1600.0,1960.0 1560.0,1972.0 1520.0,1982.0 1480.0,1995.0 1440.0,2010.0 1400.0,2030.0"/>
<polygon fill="#0ab4d2" points="1528.0,1975.0 1560.0,1965.0 1589.0,1960.0 1595.0,1975.0 1585.0,1995.0 1560.0,2005.0 1528.0,2006.0"/>
<polygon fill="#20a4e3" points="1607.0,1935.0 1650.0,1925.0 1696.0,1935.0 1700.0,1950.0 1660.0,1958.0 1625.0,1962.0 1607.0,1955.0"/>
<polygon fill="#484aee" points="1483.0,2100.0 1500.0,2085.0 1520.0,2070.0 1540.0,2058.0 1556.0,2050.0 1560.0,2055.0 1540.0,2066.0 1520.0,2080.0 1500.0,2095.0 1488.0,2105.0"/>
<polygon fill="#465ffb" points="1610.0,1950.0 1625.0,1940.0 1640.0,1938.0 1638.0,1946.0 1620.0,1954.0"/>
</g>
<g filter="url(#fh)">
<polygon fill="#12beb9" points="1484.0,1930.0 1500.0,1905.0 1520.0,1872.0 1540.0,1845.0 1555.0,1820.0 1565.0,1806.0 1572.0,1810.0 1562.0,1830.0 1548.0,1856.0 1530.0,1885.0 1510.0,1915.0 1494.0,1936.0"/>
<polygon fill="#58cc79" points="1541.0,1864.0 1552.0,1842.0 1566.0,1812.0 1572.0,1814.0 1560.0,1845.0 1548.0,1868.0"/>
</g>
<g filter="url(#sp)">
<polygon fill="#fff" points="1175.0,1722.0 1200.4,1693.6 1227.3,1682.4 1245.3,1673.4 1261.0,1680.2 1283.6,1691.5 1328.4,1684.8 1384.5,1689.3 1424.8,1680.3 1451.7,1691.5 1474.0,1696.0 1507.7,1714.0 1530.0,1729.6 1559.2,1745.3 1575.0,1765.5 1563.7,1774.5 1548.0,1785.7 1530.0,1796.9 1530.0,1819.3 1519.0,1835.0 1496.5,1846.2 1462.9,1855.1 1420.0,1840.0 1400.0,1790.0 1380.0,1760.0 1300.0,1745.0 1200.0,1760.0"/>
<polygon fill="#fff" points="1700.0,1900.0 1741.3,1903.4 1786.0,1908.0 1799.6,1903.4 1808.5,1917.0 1797.3,1934.8 1786.0,1957.2 1763.7,1973.0 1752.5,1995.3 1730.0,2006.5 1710.0,1990.0 1700.0,1950.0"/>
<polygon fill="#fff" points="517.9,1878.9 544.8,1870.0 578.4,1863.2 612.0,1843.0 645.7,1834.0 679.3,1811.7 712.9,1805.0 735.3,1789.3 769.0,1780.3 795.8,1775.9 836.1,1780.3 858.5,1775.9 880.0,1774.3 913.6,1767.6 942.7,1758.6 974.1,1760.8 1005.5,1751.9 1005.5,1790.0 900.0,1800.0 800.0,1815.0 700.0,1845.0 600.0,1880.0 540.0,1910.0 515.7,1905.8"/>
</g></g>
<g stroke="#262626" stroke-width="3.3" fill="none">
<polyline fill="none" stroke="#262626" stroke-width="3.3" stroke-linejoin="miter" points="288.3,1774.1 287.5,2130.6 1206.3,2418.9 2073.7,2115.0"/>
<line x1="288.3" y1="1774.1" x2="268.3" y2="1767.8" stroke="#262626" stroke-width="3.3"/>
<line x1="288.0" y1="1908.0" x2="268.0" y2="1901.7" stroke="#262626" stroke-width="3.3"/>
<line x1="287.7" y1="2041.8" x2="267.7" y2="2035.5" stroke="#262626" stroke-width="3.3"/>
<line x1="1204.4" y1="2418.3" x2="1184.6" y2="2425.3" stroke="#262626" stroke-width="3.3"/>
<line x1="919.2" y1="2328.8" x2="899.4" y2="2335.8" stroke="#262626" stroke-width="3.3"/>
<line x1="634.1" y1="2239.4" x2="614.3" y2="2246.3" stroke="#262626" stroke-width="3.3"/>
<line x1="348.9" y1="2149.9" x2="329.1" y2="2156.8" stroke="#262626" stroke-width="3.3"/>
<line x1="1288.6" y1="2390.1" x2="1308.7" y2="2396.4" stroke="#262626" stroke-width="3.3"/>
<line x1="1633.0" y1="2269.4" x2="1653.0" y2="2275.7" stroke="#262626" stroke-width="3.3"/>
<line x1="1977.4" y1="2148.7" x2="1997.4" y2="2155.0" stroke="#262626" stroke-width="3.3"/>
</g>
</svg></body></html>
